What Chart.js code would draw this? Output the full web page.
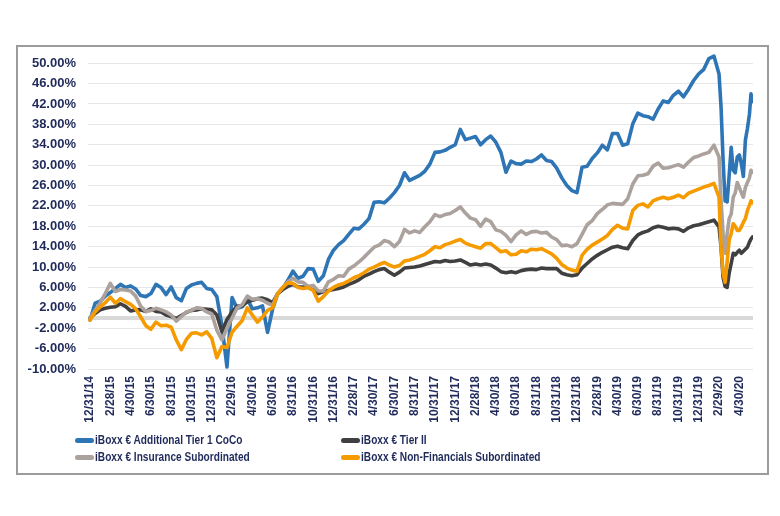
<!DOCTYPE html>
<html><head><meta charset="utf-8">
<script src="https://cdn.jsdelivr.net/npm/chart.js@4/dist/chart.umd.min.js"></script>
<style>
html,body{margin:0;padding:0;background:#fff;}
#wrap{position:relative;width:780px;height:516px;overflow:hidden;background:#fff;}
#frame{position:absolute;left:16px;top:45px;width:749px;height:426px;border:2px solid #9c9c9c;box-sizing:content-box;}
#c{position:absolute;left:0;top:0;}
#legend{position:absolute;left:0;top:0;width:780px;height:516px;pointer-events:none;
  font-family:"Liberation Sans",Arial,sans-serif;font-weight:bold;font-size:12.5px;color:#1f2a5a;}
.item{position:absolute;display:flex;align-items:center;white-space:nowrap;transform:translateY(-50%);}
.sw{width:19px;height:5px;border-radius:3px;margin-right:1px;flex:none;}
.tx{display:inline-block;transform:scaleX(0.81);transform-origin:0 50%;}
</style></head>
<body>
<div id="wrap">
  <div id="frame"></div>
  <canvas id="c" width="780" height="516"></canvas>
  <div id="legend"></div>
</div>
<script>
// x tick labels (every 2 months, month 0 = 12/31/14)
const tickLabels = ["12/31/14","2/28/15","4/30/15","6/30/15","8/31/15","10/31/15","12/31/15","2/29/16","4/30/16","6/30/16","8/31/16","10/31/16","12/31/16","2/28/17","4/30/17","6/30/17","8/31/17","10/31/17","12/31/17","2/28/18","4/30/18","6/30/18","8/31/18","10/31/18","12/31/18","2/28/19","4/30/19","6/30/19","8/31/19","10/31/19","12/31/19","2/29/20","4/30/20"];
// y tick values, %
const yTicks = [-10,-6,-2,2,6,10,14,18,22,26,30,34,38,42,46,50];

// observation times, months after 12/31/14
const months = [0,0.5,1,1.5,2,2.5,3,3.5,4,4.5,5,5.5,6,6.5,7,7.5,8,8.5,9,9.5,10,10.5,11,11.5,12,12.5,13,13.5,14,14.5,15,15.5,16,16.5,17,17.5,18,18.5,19,19.5,20,20.5,21,21.5,22,22.5,23,23.5,24,24.5,25,25.5,26,26.5,27,27.5,28,28.5,29,29.5,30,30.5,31,31.5,32,32.5,33,33.5,34,34.5,35,35.5,36,36.5,37,37.5,38,38.5,39,39.5,40,40.5,41,41.5,42,42.5,43,43.5,44,44.5,45,45.5,46,46.5,47,47.5,48,48.5,49,49.5,50,50.5,51,51.5,52,52.5,53,53.5,54,54.5,55,55.5,56,56.5,57,57.5,58,58.5,59,59.5,60,60.5,61,61.5,62,62.2,62.4,62.6,62.8,63,63.2,63.4,63.6,63.8,64,64.2,64.4,64.6,64.8,65,65.15,65.3];

// cumulative returns, %
const coco = [-0.4,2.9,3.3,4.3,5.0,5.8,6.6,6.0,6.3,5.7,4.4,4.2,4.8,6.6,6.0,4.6,6.1,4.0,3.4,5.8,6.5,6.8,7.0,5.8,5.6,4.2,-1.5,-9.6,4.0,1.9,2.2,3.8,1.8,2.0,2.4,-2.8,1.8,4.8,5.8,7.4,9.2,7.8,8.2,9.7,9.6,7.2,8.3,11.5,13.3,14.4,15.2,16.4,17.6,17.5,18.4,19.5,22.7,22.8,22.6,23.5,24.6,26.0,28.5,27.0,27.5,28.0,28.8,30.2,32.5,32.6,32.9,33.5,34.0,37.0,35.0,35.3,35.6,34.0,35.0,35.7,34.5,32.5,28.6,30.8,30.3,30.2,30.8,30.7,31.2,32.0,30.9,30.7,29.4,27.5,26.0,25.0,24.6,29.6,29.8,31.3,32.4,33.9,33.0,36.2,36.2,33.9,34.2,38.1,40.2,39.7,39.5,39.0,41.0,42.6,42.3,43.7,44.5,43.4,44.9,46.6,47.9,48.8,50.9,51.4,47.9,41.4,31.0,23.0,22.8,28.0,33.5,29.0,28.5,31.6,32.0,30.3,27.8,34.9,37.2,40.0,44.0,42.5];
const tier2 = [0,0.9,1.6,1.9,2.1,2.2,2.8,2.3,1.4,1.6,1.6,1.3,1.8,1.3,1.2,0.6,0.3,-0.1,0.5,1.1,1.5,1.6,1.8,1.7,1.6,0.6,-2.7,-0.3,1.2,2.3,2.4,3.2,3.5,3.8,3.9,3.6,3.0,4.8,5.6,6.2,6.6,6.1,6.1,6.0,5.5,4.8,5.2,5.4,5.6,5.8,6.1,6.6,7.0,7.5,8.2,8.6,9.1,9.5,9.7,9.0,8.4,9.0,9.8,9.9,10.0,10.2,10.5,10.8,11.1,11.0,11.3,11.1,11.2,11.4,10.9,10.4,10.6,10.4,10.6,10.4,9.8,9.1,8.9,9.1,8.9,9.3,9.5,9.6,9.5,9.8,9.7,9.7,9.7,8.8,8.5,8.3,8.5,9.8,10.7,11.6,12.3,12.9,13.4,13.9,14.1,13.8,13.6,15.2,16.3,16.8,17.1,17.7,18.0,17.8,17.5,17.6,17.5,17.0,17.7,18.1,18.3,18.6,18.9,19.2,17.9,13.9,8.0,6.2,6.0,8.8,10.7,12.7,12.4,12.9,13.3,12.7,13.1,13.5,13.9,14.9,15.5,15.9];
const insurance = [0,1.5,3.0,4.8,6.8,5.2,5.6,5.5,5.3,4.3,2.3,1.3,1.5,1.9,1.6,1.2,0.6,-0.6,0.3,1.2,1.5,2.0,1.9,1.2,0.8,-2.4,-4.3,-2.0,0.0,2.0,2.6,4.3,3.7,3.8,3.5,2.9,2.5,4.8,6.0,7.1,7.8,7.1,7.0,6.2,6.4,5.3,5.3,7.1,7.6,8.3,8.2,9.6,10.2,11.0,11.9,12.9,13.9,14.3,15.2,14.9,14.0,15.0,17.4,16.7,17.1,16.8,17.9,18.9,20.3,19.9,20.3,20.5,21.1,21.8,20.6,19.6,19.3,18.0,19.4,18.9,17.3,17.0,16.2,15.0,16.3,17.1,16.4,16.9,17.0,16.7,16.8,15.9,15.4,14.2,14.3,14.0,14.6,16.4,18.3,19.1,20.5,21.3,22.2,22.5,22.4,22.3,23.4,26.3,27.9,28.0,28.3,29.8,30.4,29.4,29.5,29.8,30.1,29.6,30.6,31.5,31.8,32.2,32.5,33.9,31.6,23.1,16.6,12.7,16.5,19.5,20.4,23.7,24.6,26.6,25.6,24.6,23.7,25.6,26.6,27.5,29.0,28.6];
const nonFin = [-0.4,1.2,2.2,3.0,4.1,2.9,3.8,3.2,2.7,1.8,0.2,-1.5,-2.2,-0.8,-1.5,-1.4,-1.8,-4.3,-6.2,-4.2,-3.0,-2.9,-3.3,-2.7,-4.0,-7.8,-5.6,-5.8,-2.8,-1.6,-0.5,2.0,0.6,-0.8,0.2,1.5,2.0,4.8,6.0,6.9,6.8,6.0,5.8,6.0,5.4,3.3,4.2,5.3,6.0,6.5,6.8,7.3,7.9,8.3,8.9,9.6,10.0,10.5,10.9,10.4,10.0,10.3,11.2,11.4,11.7,12.1,12.5,13.2,14.0,13.8,14.4,14.7,15.1,15.4,14.7,14.3,14.0,13.7,14.6,14.6,13.8,13.0,13.2,12.4,12.5,13.2,13.0,13.5,13.4,13.6,13.1,12.6,11.7,10.5,9.8,9.4,9.2,12.3,13.5,14.3,14.9,15.5,16.2,17.4,18.2,17.6,17.5,21.1,22.1,22.4,21.8,23.0,23.4,23.7,23.4,23.7,24.1,23.6,24.5,24.9,25.3,25.7,26.0,26.4,23.7,13.9,8.8,7.0,11.0,15.3,16.6,18.5,18.0,17.2,17.2,17.9,18.8,19.5,21.1,22.1,23.0,22.6];

const seriesNames = ["iBoxx € Additional Tier 1 CoCo","iBoxx € Tier II","iBoxx € Insurance Subordinated","iBoxx € Non-Financials Subordinated"];
const seriesColors = ["#2E75B6","#404040","#ABA19D","#F59B00"];
const seriesValues = [coco, tier2, insurance, nonFin];

const X_MIN = -0.2, X_MAX = 65.35;
const NAVY = "#1f2a5a";

const datasets = seriesValues.map((vals, i) => ({
  label: seriesNames[i],
  data: months.map((m, j) => ({x: m, y: vals[j]})),
  borderColor: seriesColors[i],
  backgroundColor: seriesColors[i],
  borderWidth: 3.6,
  pointRadius: 0,
  tension: 0,
  fill: false,
  order: 4 - i,
  borderJoinStyle: 'round',
  borderCapStyle: 'round'
}));
datasets.push({
  label: "zero",
  data: [{x: X_MIN, y: 0}, {x: X_MAX, y: 0}],
  borderColor: "#d9d9d9",
  borderWidth: 4,
  pointRadius: 0,
  order: 10
});

const chart = new Chart(document.getElementById('c'), {
  type: 'line',
  data: { datasets },
  options: {
    responsive: false,
    animation: false,
    devicePixelRatio: 1,
    layout: { padding: { left: 20, right: 27, top: 53, bottom: 60 } },
    plugins: { legend: { display: false }, tooltip: { enabled: false } },
    scales: {
      x: {
        type: 'linear',
        min: X_MIN, max: X_MAX,
        afterBuildTicks: axis => { axis.ticks = tickLabels.map((_, i) => ({ value: i * 2 })); },
        afterFit: axis => { axis.height = 87; },
        grid: { display: false, drawTicks: false },
        border: { display: false },
        ticks: {
          autoSkip: false, maxRotation: 90, minRotation: 90, padding: 7,
          color: NAVY,
          font: { family: "'Liberation Sans', Arial, sans-serif", size: 12, weight: 'bold' },
          callback: v => tickLabels[Math.round(v / 2)]
        }
      },
      y: {
        min: -10, max: 52,
        afterBuildTicks: axis => { axis.ticks = yTicks.map(v => ({ value: v })); },
        afterFit: axis => { axis.width = 68; },
        grid: { color: "#e6e6e6", lineWidth: 1, drawTicks: false },
        border: { display: false },
        ticks: {
          autoSkip: false, padding: 12,
          color: NAVY,
          font: { family: "'Liberation Sans', Arial, sans-serif", size: 13, weight: 'bold' },
          callback: v => v.toFixed(2) + '%'
        }
      }
    }
  }
});

// legend built from the chart's datasets, two columns
const legendPos = [[75, 440], [341, 440], [75, 457], [341, 457]];
const lg = document.getElementById('legend');
chart.data.datasets.slice(0, 4).forEach((ds, i) => {
  const it = document.createElement('div');
  it.className = 'item';
  it.style.left = legendPos[i][0] + 'px';
  it.style.top = legendPos[i][1] + 'px';
  const sw = document.createElement('span');
  sw.className = 'sw';
  sw.style.background = ds.borderColor;
  const tx = document.createElement('span');
  tx.className = 'tx';
  tx.textContent = ds.label;
  it.appendChild(sw); it.appendChild(tx);
  lg.appendChild(it);
});
</script>
</body></html>
